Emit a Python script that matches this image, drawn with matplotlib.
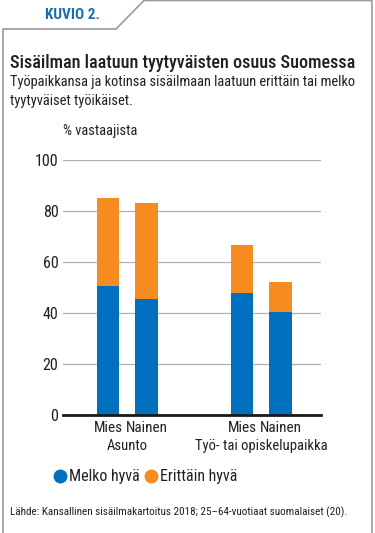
import matplotlib.pyplot as plt
from matplotlib.lines import Line2D

# data
sukupuoli = ["Mies", "Nainen", "Mies", "Nainen"]
ryhmat = ["Asunto", "Työ- tai opiskelupaikka"]
melko_hyva = [50.6, 45.5, 47.7, 40.4]
erittain_hyva = [34.4, 37.5, 19.0, 11.6]
y_ticks = [0, 20, 40, 60, 80, 100]

BLUE = "#0070BE"
ORANGE = "#F68B1F"
TXT = "#231F20"

plt.rcParams["font.family"] = ["Roboto Condensed", "Fira Sans Condensed", "DejaVu Sans"]

fig = plt.figure(figsize=(3.75, 5.33), dpi=100)
W, H = 375, 533


def fx(px):
    return px / W


def fy(py):
    return 1 - py / H


# frame with tab
frame = Line2D([fx(3), fx(3), fx(116), fx(144), fx(372), fx(372)],
               [fy(533), fy(29), fy(29), fy(0.5), fy(0.5), fy(533)],
               color="#9a9a9a", lw=1.2, transform=fig.transFigure)
fig.add_artist(frame)

fig.text(fx(45), fy(15), "KUVIO 2.", color="#1a6db3", fontsize=11,
         fontweight="bold", va="center", ha="left")
fig.text(fx(10), fy(63), "Sisäilman laatuun tyytyväisten osuus Suomessa",
         color=TXT, fontsize=13, fontweight="medium", va="center")
fig.text(fx(10), fy(82), "Työpaikkansa ja kotinsa sisäilmaan laatuun erittäin tai melko",
         color=TXT, fontsize=10.4, va="center")
fig.text(fx(10), fy(101), "tyytyväiset työikäiset.", color=TXT, fontsize=10.4, va="center")
fig.text(fx(63), fy(131), "% vastaajista", color=TXT, fontsize=10.4, va="center")

ax = fig.add_axes([fx(63.3), fy(415), fx(321) - fx(63.3), fy(160) - fy(415)])
pos = [0, 1, 3.5, 4.5]
ax.bar(pos, melko_hyva, width=0.59, color=BLUE, zorder=3)
ax.bar(pos, erittain_hyva, bottom=melko_hyva, width=0.59, color=ORANGE, zorder=3)
ax.set_xlim(-1.17, 5.56)
ax.set_ylim(0, 100)
ax.set_yticks(y_ticks)
ax.set_yticklabels([str(t) for t in y_ticks], fontsize=11.5, color=TXT)
ax.tick_params(axis="y", length=0, pad=3.5)
ax.set_xticks(pos)
ax.set_xticklabels(sukupuoli, fontsize=11, color=TXT)
ax.tick_params(axis="x", length=0, pad=4)
ax.grid(axis="y", color="#b0b0b0", lw=0.9, zorder=0)
for s in ["left", "right", "top"]:
    ax.spines[s].set_visible(False)
ax.spines["bottom"].set_color("#1a1a1a")
ax.spines["bottom"].set_linewidth(2)
ax.spines["bottom"].set_zorder(4)

for i, r in enumerate(ryhmat):
    c = (pos[2 * i] + pos[2 * i + 1]) / 2
    ax.text(c, -0.12, r, transform=ax.get_xaxis_transform(), ha="center",
            va="center", fontsize=10.5, color=TXT)

# legend
fig.add_artist(Line2D([fx(60)], [fy(476)], marker="o", markersize=9,
                      color=BLUE, transform=fig.transFigure))
fig.text(fx(69), fy(476), "Melko hyvä", fontsize=11.5, color=TXT, va="center")
fig.add_artist(Line2D([fx(151)], [fy(476)], marker="o", markersize=9,
                      color=ORANGE, transform=fig.transFigure))
fig.text(fx(160), fy(476), "Erittäin hyvä", fontsize=11.5, color=TXT, va="center")

fig.text(fx(10), fy(512),
         "Lähde: Kansallinen sisäilmakartoitus 2018; 25–64-vuotiaat suomalaiset (20).",
         fontsize=8, color=TXT, va="center")

fig.savefig("out.png", dpi=100)
